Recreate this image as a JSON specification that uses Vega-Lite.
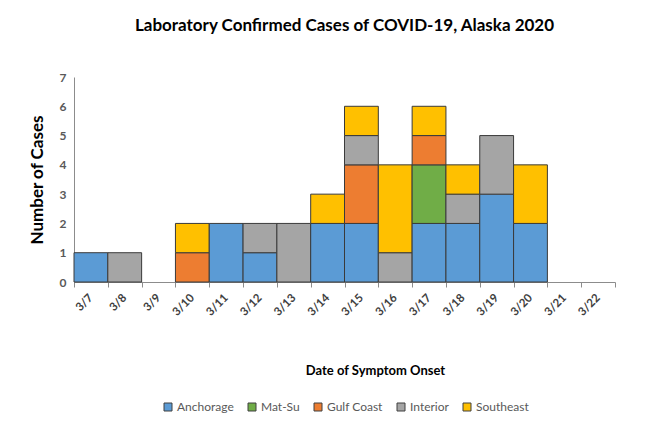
{
  "$schema": "https://vega.github.io/schema/vega-lite/v6.json",
  "width": 541,
  "height": 205,
  "autosize": {"type": "none"},
  "padding": {"left": 74, "top": 77, "right": 51, "bottom": 146},
  "background": "white",
  "title": {
    "text": "Laboratory Confirmed Cases of COVID-19, Alaska 2020",
    "font": "Lato",
    "fontSize": 17,
    "fontWeight": "bold",
    "color": "#000000",
    "anchor": "middle",
    "offset": 36
  },
  "datasets": {
    "regions": [
      {"region": "Anchorage", "seq": 1},
      {"region": "Mat-Su", "seq": 2},
      {"region": "Gulf Coast", "seq": 3},
      {"region": "Interior", "seq": 4},
      {"region": "Southeast", "seq": 5}
    ],
    "cases": [
      {"date": "3/7", "region": "Anchorage", "cases": 1},
      {"date": "3/8", "region": "Interior", "cases": 1},
      {"date": "3/10", "region": "Gulf Coast", "cases": 1},
      {"date": "3/10", "region": "Southeast", "cases": 1},
      {"date": "3/11", "region": "Anchorage", "cases": 2},
      {"date": "3/12", "region": "Anchorage", "cases": 1},
      {"date": "3/12", "region": "Interior", "cases": 1},
      {"date": "3/13", "region": "Interior", "cases": 2},
      {"date": "3/14", "region": "Anchorage", "cases": 2},
      {"date": "3/14", "region": "Southeast", "cases": 1},
      {"date": "3/15", "region": "Anchorage", "cases": 2},
      {"date": "3/15", "region": "Gulf Coast", "cases": 2},
      {"date": "3/15", "region": "Interior", "cases": 1},
      {"date": "3/15", "region": "Southeast", "cases": 1},
      {"date": "3/16", "region": "Interior", "cases": 1},
      {"date": "3/16", "region": "Southeast", "cases": 3},
      {"date": "3/17", "region": "Anchorage", "cases": 2},
      {"date": "3/17", "region": "Mat-Su", "cases": 2},
      {"date": "3/17", "region": "Gulf Coast", "cases": 1},
      {"date": "3/17", "region": "Southeast", "cases": 1},
      {"date": "3/18", "region": "Anchorage", "cases": 2},
      {"date": "3/18", "region": "Interior", "cases": 1},
      {"date": "3/18", "region": "Southeast", "cases": 1},
      {"date": "3/19", "region": "Anchorage", "cases": 3},
      {"date": "3/19", "region": "Interior", "cases": 2},
      {"date": "3/20", "region": "Anchorage", "cases": 2},
      {"date": "3/20", "region": "Southeast", "cases": 2}
    ]
  },
  "data": {"name": "cases"},
  "transform": [
    {"lookup": "region", "from": {"data": {"name": "regions"}, "key": "region", "fields": ["seq"]}}
  ],
  "mark": {"type": "bar", "stroke": "#3a3a3a", "strokeWidth": 1, "cornerRadius": 0},
  "encoding": {
    "x": {
      "field": "date",
      "type": "nominal",
      "scale": {
        "domain": ["3/7","3/8","3/9","3/10","3/11","3/12","3/13","3/14","3/15","3/16","3/17","3/18","3/19","3/20","3/21","3/22"],
        "paddingInner": 0,
        "paddingOuter": 0
      },
      "axis": {
        "title": "Date of Symptom Onset",
        "titleFont": "Lato",
        "titleFontSize": 13,
        "titleFontWeight": "bold",
        "titleColor": "#000000",
        "titleX": 301,
        "titleY": 82,
        "titleAnchor": "middle",
        "titleAlign": "center",
        "labelAngle": -45,
        "labelAlign": "right",
        "labelBaseline": "middle",
        "labelFont": "Lato",
        "labelFontSize": 11.5,
        "labelFontWeight": "bold",
        "labelColor": "#404040",
        "labelPadding": 9,
        "labelOverlap": false,
        "tickBand": "extent",
        "ticks": true,
        "tickSize": 5,
        "tickColor": "#8c8c8c",
        "domainColor": "#8c8c8c",
        "grid": false
      }
    },
    "y": {
      "field": "cases",
      "type": "quantitative",
      "aggregate": "sum",
      "stack": "zero",
      "scale": {"domain": [0, 7], "nice": false},
      "axis": {
        "title": "Number of Cases",
        "titleFont": "Lato",
        "titleFontSize": 17,
        "titleFontWeight": "bold",
        "titleColor": "#000000",
        "titleX": -28,
        "values": [0, 1, 2, 3, 4, 5, 6, 7],
        "labelOverlap": false,
        "labelFlush": false,
        "labelFont": "Lato",
        "labelFontSize": 12,
        "labelFontWeight": "bold",
        "labelColor": "#595959",
        "labelPadding": 8,
        "ticks": false,
        "grid": false,
        "domainColor": "#8c8c8c"
      }
    },
    "color": {
      "field": "region",
      "type": "nominal",
      "scale": {
        "domain": ["Anchorage", "Mat-Su", "Gulf Coast", "Interior", "Southeast"],
        "range": ["#5B9BD5", "#70AD47", "#ED7D31", "#A5A5A5", "#FFC000"]
      },
      "legend": {
        "title": null,
        "orient": "none",
        "direction": "horizontal",
        "legendX": 88,
        "legendY": 324,
        "symbolType": "square",
        "symbolSize": 64,
        "symbolStrokeColor": "#404040",
        "symbolStrokeWidth": 1,
        "labelFont": "Lato",
        "labelFontSize": 12,
        "labelColor": "#595959",
        "labelOffset": 3,
        "columnPadding": 12
      }
    },
    "order": {"field": "seq", "type": "quantitative", "aggregate": "min", "sort": "ascending"}
  },
  "config": {"view": {"stroke": null}}
}
